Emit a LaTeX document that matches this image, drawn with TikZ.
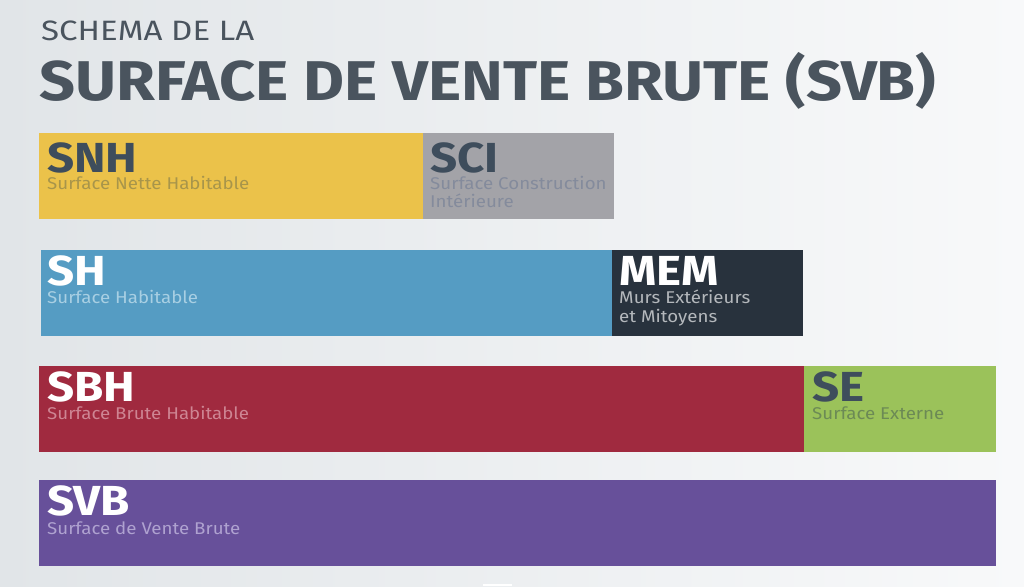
\documentclass[tikz,border=0pt]{standalone}
\usepackage{fontspec}
\setmainfont{Fira Sans}
\definecolor{bgleft}{HTML}{E1E5E8}
\definecolor{bgright}{HTML}{F8F9FA}
\definecolor{titlegray}{HTML}{4A545E}
\definecolor{slate}{HTML}{3E4D5C}
\definecolor{snhyellow}{HTML}{EBC24A}
\definecolor{snhsub}{HTML}{A8954A}
\definecolor{scigray}{HTML}{A3A3A8}
\definecolor{scisub}{HTML}{848B9C}
\definecolor{shblue}{HTML}{559CC3}
\definecolor{shsub}{HTML}{A8CFE3}
\definecolor{memdark}{HTML}{28323D}
\definecolor{memsub}{HTML}{B4B8BC}
\definecolor{sbhred}{HTML}{A02A3F}
\definecolor{sbhsub}{HTML}{CE8593}
\definecolor{segreen}{HTML}{9BC25A}
\definecolor{sesub}{HTML}{6C8A55}
\definecolor{svbpurple}{HTML}{67509A}
\definecolor{svbsub}{HTML}{AFA2D0}
\begin{document}
\begin{tikzpicture}[x=1pt,y=-1pt,
    bar/.style={rectangle,anchor=north west,inner sep=0,outer sep=0,minimum height=86pt},
    code/.style={anchor=base west,inner sep=0,text height=29pt,text depth=0pt,font=\fontsize{42}{42}\selectfont\bfseries\addfontfeatures{FakeStretch=1.13}},
    sub/.style={anchor=base west,inner sep=0,text height=12pt,text depth=3pt,font=\fontsize{17}{18}\selectfont\addfontfeatures{FakeStretch=1.1}}]

        % fond
        \shade[left color=bgleft,right color=bgright] (0,0) rectangle (1024,586);
        \useasboundingbox (0,0) rectangle (1024,586);
        \fill[white] (483,584) rectangle (512,586);

        % titre
        \node [anchor=base west,inner sep=0,text=titlegray,font=\fontsize{28}{28}\selectfont\addfontfeatures{FakeStretch=1.18}] (surtitre) at (41,41) {SCHEMA DE LA};
        \node [anchor=base west,inner sep=0,text=titlegray,font=\fontsize{56}{56}\selectfont\bfseries\addfontfeatures{FakeStretch=1.125}] (titre) at (39,100) {SURFACE DE VENTE BRUTE (SVB)};

        % ligne 1
        \node [bar,fill=snhyellow,minimum width=384pt] (snh) at (39,133) {};
        \node [bar,fill=scigray,minimum width=191pt] (sci) at (snh.north east) {};
        \node [code,text=slate] (snhcode) at (47,172) {SNH};
        \node [sub,text=snhsub] (snhsub) at (47,189) {Surface Nette Habitable};
        \node [code,text=slate] (scicode) at (430,172) {SCI};
        \node [sub,text=scisub] (scisub1) at (430,189) {Surface Construction};
        \node [sub,text=scisub] (scisub2) at (430,207) {Intérieure};

        % ligne 2
        \node [bar,fill=shblue,minimum width=571pt] (sh) at (41,250) {};
        \node [bar,fill=memdark,minimum width=191pt] (mem) at (sh.north east) {};
        \node [code,text=white] (shcode) at (47,285) {SH};
        \node [sub,text=shsub] (shsub) at (47,303) {Surface Habitable};
        \node [code,text=white] (memcode) at (619,285) {MEM};
        \node [sub,text=memsub] (memsub1) at (619,303) {Murs Extérieurs};
        \node [sub,text=memsub] (memsub2) at (619,322) {et Mitoyens};

        % ligne 3
        \node [bar,fill=sbhred,minimum width=765pt] (sbh) at (39,366) {};
        \node [bar,fill=segreen,minimum width=192pt] (se) at (sbh.north east) {};
        \node [code,text=white] (sbhcode) at (47,401) {SBH};
        \node [sub,text=sbhsub] (sbhsub) at (47,419) {Surface Brute Habitable};
        \node [code,text=slate] (secode) at (812,401) {SE};
        \node [sub,text=sesub] (sesub) at (812,419) {Surface Externe};

        % ligne 4
        \node [bar,fill=svbpurple,minimum width=957pt] (svb) at (39,480) {};
        \node [code,text=white] (svbcode) at (47,515) {SVB};
        \node [sub,text=svbsub] (svbsub) at (47,534) {Surface de Vente Brute};
    \end{tikzpicture}
\end{document}
